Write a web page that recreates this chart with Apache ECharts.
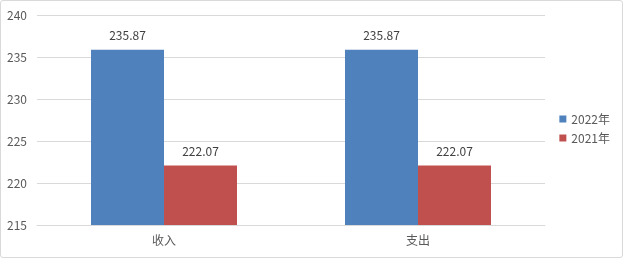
<!DOCTYPE html>
<html><head><meta charset="utf-8">
<script src="https://cdn.jsdelivr.net/npm/echarts@6/dist/echarts.min.js"></script>
<style>html,body{margin:0;padding:0;background:#fff}#c{width:621px;height:256px;border:1px solid #d9d9d9;border-radius:3px}</style>
</head><body><div id="c"></div>
<script>
const categories = ['收入', '支出'];
const series2022 = [235.87, 235.87];
const series2021 = [222.07, 222.07];
const seriesNames = ['2022年', '2021年'];
const chart = echarts.init(document.getElementById('c'));
const font = '"Microsoft YaHei","Noto Sans CJK SC",sans-serif';
chart.setOption({
  animation: false,
  grid: {left: 36, right: 77, top: 14, bottom: 32},
  legend: {orient: 'vertical', right: 7, top: 107, itemWidth: 7, itemHeight: 7, itemGap: 7, icon: 'rect',
    textStyle: {color: '#595959', fontSize: 12, fontFamily: font}},
  xAxis: {type: 'category', data: categories, axisTick: {show: false},
    axisLine: {lineStyle: {color: '#d9d9d9'}},
    axisLabel: {color: '#595959', fontSize: 12, fontFamily: font, margin: 9}},
  yAxis: {type: 'value', min: 215, max: 240, interval: 5,
    axisLabel: {color: '#595959', fontSize: 12, fontFamily: font, margin: 10},
    splitLine: {lineStyle: {color: '#d9d9d9'}}},
  series: [
    {name: seriesNames[0], type: 'bar', data: series2022, barWidth: 73, barGap: '0%',
      itemStyle: {color: '#4f81bd'},
      label: {show: true, position: 'top', distance: 8, color: '#404040', fontSize: 12, fontFamily: font}},
    {name: seriesNames[1], type: 'bar', data: series2021, barWidth: 73, barGap: '0%',
      itemStyle: {color: '#c0504d'},
      label: {show: true, position: 'top', distance: 8, color: '#404040', fontSize: 12, fontFamily: font}}
  ]
});
</script></body></html>
